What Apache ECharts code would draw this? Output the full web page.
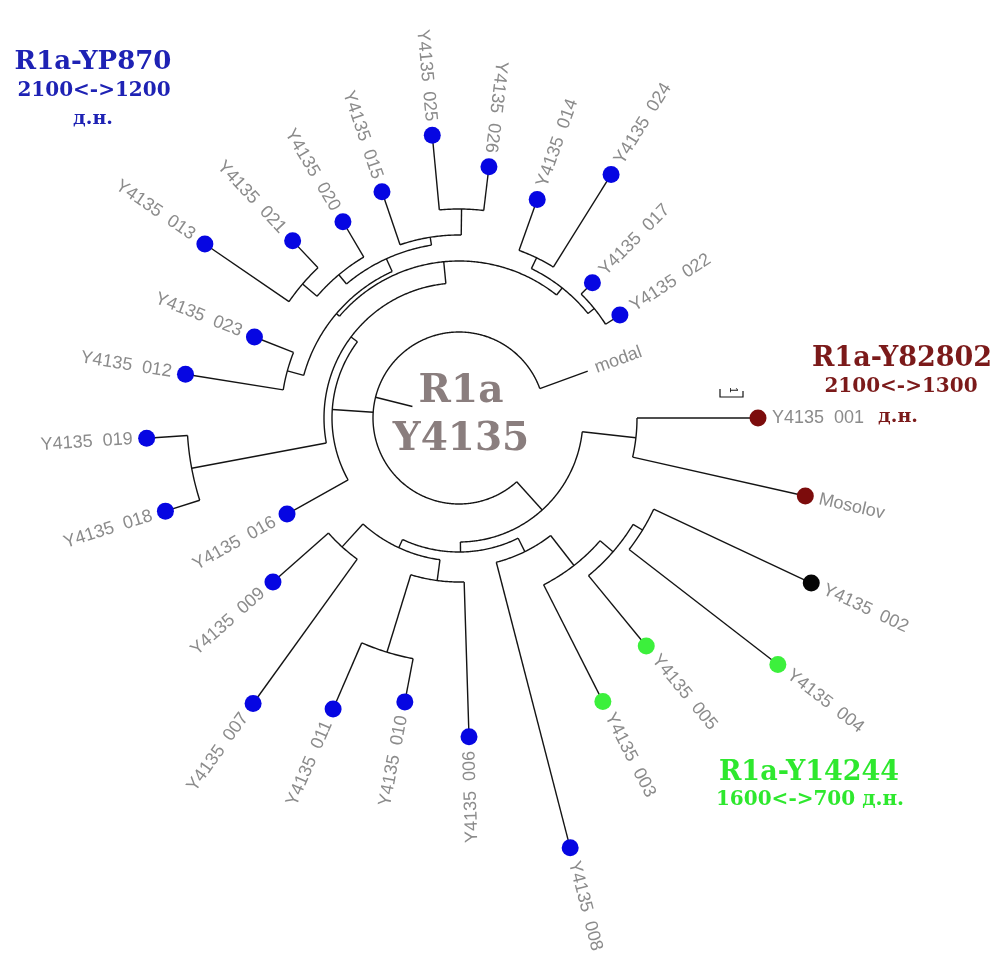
<!DOCTYPE html>
<html><head><meta charset="utf-8">
<script src="https://cdn.jsdelivr.net/npm/echarts@6/dist/echarts.min.js"></script>
<style>html,body{margin:0;padding:0;background:#fff}#c{width:1002px;height:957px}</style>
</head><body><div id="c"></div>
<script>
// ---- leaves (counter-clockwise from "modal") ----
const leafIds = ['modal','022','017','024','014','026','025','015','020','021','013','023','012','019','018','016','009','007','011','010','006','008','003','005','004','002','Mosolov','001'];
const leafLabels = ['modal','Y4135  022','Y4135  017','Y4135  024','Y4135  014','Y4135  026','Y4135  025','Y4135  015','Y4135  020','Y4135  021','Y4135  013','Y4135  023','Y4135  012','Y4135  019','Y4135  018','Y4135  016','Y4135  009','Y4135  007','Y4135  011','Y4135  010','Y4135  006','Y4135  008','Y4135  003','Y4135  005','Y4135  004','Y4135  002','Mosolov','Y4135  001'];
const leafAngles = [20, 32.6, 45.4, 58, 70.3, 83.2, 95.4, 108.8, 120.6, 133.2, 145.6, 158.4, 170.9, 183.7, 197.6, 209.2, 221.4, 234.2, 246.6, 259.2, 271.8, 284.5, 296.9, 309.4, 322.3, 334.9, 347.3, 360];
const leafRadii = [137, 191, 190, 287, 232, 253, 284, 239, 228, 243, 308, 220, 277, 313, 308, 197, 248, 352, 317, 289, 319, 444, 318, 295, 403, 389, 355, 299];
const leafGroups = ['none','blue','blue','blue','blue','blue','blue','blue','blue','blue','blue','blue','blue','blue','blue','blue','blue','blue','blue','blue','blue','blue','green','green','green','black','brown','brown'];

// ---- internal nodes: id, radius (branch depth), children ----
const nodeIds = ['n013_021','nA1','n025_026','nA2','nA','n012_023','nL','n014_024','n017_022','nR','nB','n018_019','n1a','n1','n009_007','n011_010','n006','nLL','n004_002','nV3','nV2','nV','nW','nBrown','nZ','root'];
const nodeRadii = [206, 187, 209, 183, 175, 178, 161, 178, 174, 166, 157, 272, 135, 127, 174, 245, 164, 143, 215, 204, 187, 149, 134, 178, 124, 86];
const nodeChildren = [['013','021'],['n013_021','020'],['026','025'],['n025_026','015'],['nA1','nA2'],['023','012'],['nA','n012_023'],['024','014'],['022','017'],['n017_022','n014_024'],['nR','nL'],['019','018'],['nB','n018_019'],['n1a','016'],['009','007'],['011','010'],['n011_010','006'],['n009_007','n006'],['004','002'],['005','n004_002'],['003','nV3'],['008','nV2'],['nLL','nV'],['Mosolov','001'],['nW','nBrown'],['modal','n1','nZ']];
const rootStemEnd = 48;

const groupColors = {blue:'#0606e2', green:'#3cf03c', black:'#050505', brown:'#7c0c0c'};

// ---- build geometry in (radius, angle) space ----
const R = {}, A = {};
leafIds.forEach((id,i)=>{R[id]=leafRadii[i]; A[id]=leafAngles[i];});
nodeIds.forEach((id,i)=>{R[id]=nodeRadii[i];});
const kids = {}; nodeIds.forEach((id,i)=>kids[id]=nodeChildren[i]);
function angleOf(id){
  if(A[id]!==undefined) return A[id];
  const c = kids[id].map(angleOf);
  A[id] = (Math.min(...c)+Math.max(...c))/2;
  return A[id];
}
angleOf('root');
const branches = [];
nodeIds.forEach(id=>{
  const c = kids[id].map(k=>A[k]);
  branches.push([R[id], Math.min(...c), R[id], Math.max(...c), 1]);
  kids[id].forEach(k=>branches.push([R[id], A[k], R[k], A[k], 0]));
});
branches.push([R['root'], A['root'], rootStemEnd, A['root'], 0]);

const dots = [], labels = [];
leafIds.forEach((id,i)=>{
  labels.push([leafRadii[i], leafAngles[i], i]);
  if(leafGroups[i]!=='none') dots.push({value:[leafRadii[i], leafAngles[i]], itemStyle:{color:groupColors[leafGroups[i]], opacity:1}});
});

const chart = echarts.init(document.getElementById('c'));
const serif = '"DejaVu Serif", "Liberation Serif", serif';
function t(x,y,text,size,color){
  return {type:'text', x:x, y:y, silent:true, style:{text:text, font:'bold '+size+'px '+serif, fill:color, align:'center', verticalAlign:'middle'}};
}
chart.setOption({
  animation:false,
  backgroundColor:'#ffffff',
  polar:{center:[459,418], radius:460},
  angleAxis:{type:'value', min:0, max:360, startAngle:0, clockwise:false, show:false},
  radiusAxis:{type:'value', min:0, max:460, show:false},
  series:[
    {type:'custom', coordinateSystem:'polar', silent:true, data:branches,
     encode:{radius:0, angle:1},
     renderItem:function(params, api){
       const r1=api.value(0), a1=api.value(1), r2=api.value(2), a2=api.value(3), kind=api.value(4);
       const pts=[];
       if(kind===0){ pts.push(api.coord([r1,a1]), api.coord([r2,a2])); }
       else { const n=Math.max(2, Math.ceil(Math.abs(a2-a1)*2)); for(let k=0;k<=n;k++) pts.push(api.coord([r1, a1+(a2-a1)*k/n])); }
       return {type:'polyline', shape:{points:pts}, style:{stroke:'#141414', lineWidth:1.4, fill:null}};
     }},
    {type:'custom', coordinateSystem:'polar', silent:true, data:labels,
     encode:{radius:0, angle:1},
     renderItem:function(params, api){
       const r=api.value(0), a=api.value(1), i=api.value(2);
       const off = leafIds[i]==='modal' ? 8 : 14;
       const p = api.coord([r+off, a]);
       const flip = a>80 && a<280;
       const rot = (flip ? a-180 : a)*Math.PI/180;
       return {type:'text', x:p[0], y:p[1], rotation:rot,
         style:{text:leafLabels[i], fill:'#8b8b8b', font:'18px "Liberation Sans", Arial, sans-serif', align:flip?'right':'left', verticalAlign:'middle'}};
     }},
    {type:'scatter', coordinateSystem:'polar', silent:true, symbol:'circle', symbolSize:17, itemStyle:{opacity:1}, data:dots, z:5}
  ],
  graphic:[
    t(93,62,'R1a-YP870',26,'#1e22b4'),
    t(94,91,'2100<->1200',20,'#1e22b4'),
    t(93,119,'д.н.',19,'#1e22b4'),
    t(902,359,'R1a-Y82802',27,'#7b1a1a'),
    t(901,387,'2100<->1300',20,'#7b1a1a'),
    t(898,417,'д.н.',19,'#7b1a1a'),
    t(809,773,'R1a-Y14244',27,'#2ee82e'),
    t(810,800,'1600<->700 д.н.',20,'#2ee82e'),
    t(461,392,'R1a',39,'#8a7e7e'),
    t(461,440,'Y4135',39,'#8a7e7e'),
    {type:'polyline', silent:true, shape:{points:[[720,389],[720,397],[743,397],[743,391]]}, style:{stroke:'#141414', lineWidth:1.2, fill:null}},
    {type:'text', silent:true, x:733, y:390, rotation:-Math.PI/2, style:{text:'1', font:'10px "Liberation Sans", sans-serif', fill:'#141414', align:'center', verticalAlign:'middle'}}
  ]
});
</script></body></html>
